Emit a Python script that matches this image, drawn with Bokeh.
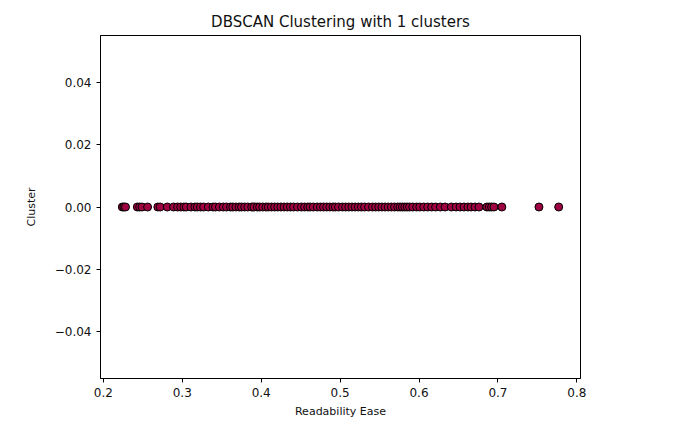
from bokeh.plotting import figure
from bokeh.models import Range1d, FixedTicker, CustomJSTickFormatter, ColumnDataSource
from bokeh.embed import file_html
from bokeh.resources import INLINE

title_text = "DBSCAN Clustering with 1 clusters"
x_label = "Readability Ease"
y_label = "Cluster"

readability = [
    0.224, 0.226, 0.228, 0.243, 0.246, 0.249, 0.256, 0.269, 0.272, 0.281,
    0.289, 0.294, 0.298, 0.302, 0.305, 0.311, 0.316, 0.319, 0.323, 0.327,
    0.333, 0.339, 0.342, 0.347, 0.352, 0.356, 0.361, 0.364, 0.368, 0.372,
    0.375, 0.379, 0.383, 0.388, 0.391, 0.395, 0.398, 0.402, 0.406, 0.409,
    0.413, 0.417, 0.421, 0.425, 0.429, 0.433, 0.437, 0.441, 0.446, 0.451,
    0.455, 0.459, 0.462, 0.466, 0.471, 0.475, 0.479, 0.483, 0.487, 0.491,
    0.494, 0.498, 0.503, 0.507, 0.511, 0.515, 0.519, 0.523, 0.527, 0.531,
    0.536, 0.541, 0.545, 0.549, 0.553, 0.557, 0.561, 0.565, 0.569, 0.573,
    0.576, 0.579, 0.582, 0.585, 0.588, 0.592, 0.597, 0.601, 0.606, 0.611,
    0.616, 0.621, 0.627, 0.633, 0.641, 0.647, 0.652, 0.657, 0.662, 0.666,
    0.671, 0.676, 0.686, 0.689, 0.692, 0.695, 0.705, 0.752, 0.777,
]
cluster = [0] * len(readability)

x_ticks = [0.2, 0.3, 0.4, 0.5, 0.6, 0.7, 0.8]
y_ticks = [-0.04, -0.02, 0.0, 0.02, 0.04]

xmin, xmax = min(readability), max(readability)
pad = 0.05 * (xmax - xmin)

FONT = "DejaVu Sans"

p = figure(width=673, height=428, output_backend="svg", toolbar_location=None,
           x_range=Range1d(xmin - pad, xmax + pad), y_range=Range1d(-0.055, 0.055),
           title=title_text, min_border_left=100, min_border_right=93,
           min_border_top=35, min_border_bottom=50)

src = ColumnDataSource(dict(x=readability, y=cluster))
p.scatter("x", "y", source=src, size=8, fill_color="#9e0142", line_color="black", line_width=1)

p.title.align = "center"
p.title.text_font = FONT
p.title.text_font_size = "15px"
p.title.text_font_style = "normal"
p.title.text_color = "#111111"
p.title.offset = 0

p.grid.visible = False
p.outline_line_color = "black"
p.outline_line_width = 1
p.outline_line_alpha = 1
p.background_fill_color = "white"
p.border_fill_color = "white"

p.xaxis.ticker = FixedTicker(ticks=x_ticks)
p.yaxis.ticker = FixedTicker(ticks=y_ticks)
p.xaxis.formatter = CustomJSTickFormatter(code="return tick.toFixed(1);")
p.yaxis.formatter = CustomJSTickFormatter(code="return (tick < -1e-9 ? '\\u2212' : '') + Math.abs(tick).toFixed(2);")

p.xaxis.axis_label = x_label
p.yaxis.axis_label = y_label
for ax in (p.xaxis, p.yaxis):
    ax.axis_line_color = "black"
    ax.major_tick_line_color = "black"
    ax.major_tick_out = 4
    ax.major_tick_in = 0
    ax.minor_tick_line_color = None
    ax.major_label_text_font = FONT
    ax.major_label_text_font_size = "12px"
    ax.major_label_text_color = "#111111"
    ax.axis_label_text_font = FONT
    ax.axis_label_text_font_size = "11px"
    ax.axis_label_text_font_style = "normal"
    ax.axis_label_text_color = "#111111"
p.yaxis.axis_label_standoff = 14
p.xaxis.axis_label_standoff = 5

open("out.html", "w").write(file_html(p, INLINE))
